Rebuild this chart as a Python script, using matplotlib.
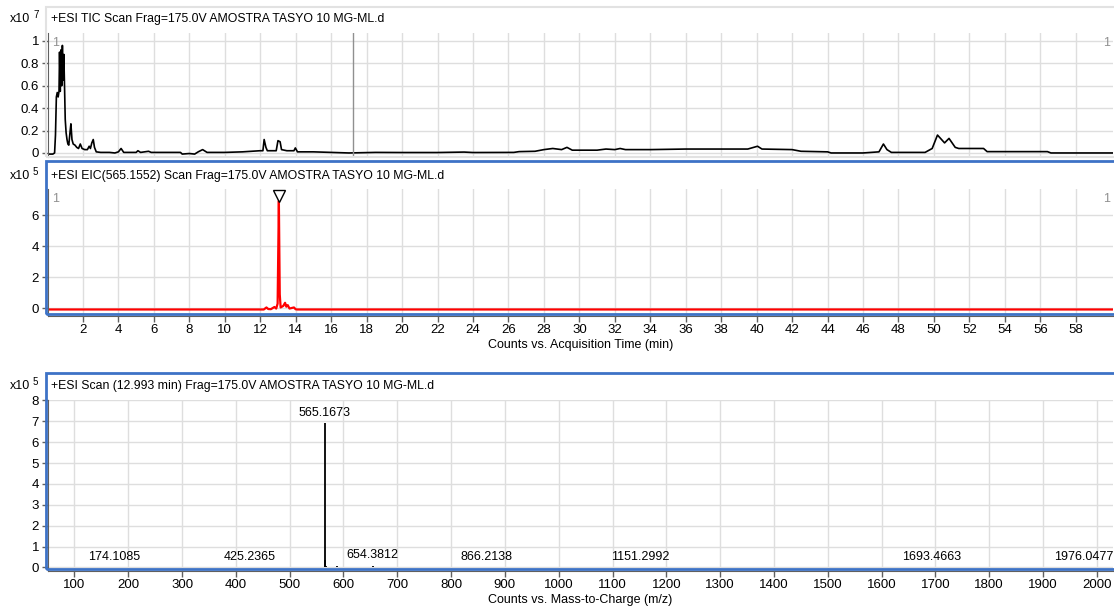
import matplotlib
matplotlib.use("Agg")
import matplotlib.pyplot as plt
from matplotlib.patches import Rectangle

plt.rcParams['font.family'] = ['Liberation Sans', 'DejaVu Sans']

# TIC trace, time in min, counts x10^7
tic_time = [0.00, 0.30, 0.40, 0.45, 0.50, 0.55, 0.60, 0.65, 0.68, 0.72, 0.76, 0.80, 0.84, 0.88,
            0.92, 0.96, 1.00, 1.05, 1.10, 1.15, 1.20, 1.28, 1.32, 1.38, 1.45, 1.55, 1.65, 1.75,
            1.85, 1.95, 2.10, 2.25, 2.35, 2.42, 2.50, 2.58, 2.65, 2.75, 3.0, 3.5, 3.8, 4.0, 4.15,
            4.3, 5.0, 5.1, 5.25, 5.7, 5.85, 7.5, 7.6, 8.0, 8.3, 8.5, 8.75, 9.0, 10.0, 11.0, 11.5,
            12.0, 12.15, 12.22, 12.32, 12.4, 12.9, 13.0, 13.12, 13.2, 13.5, 13.9, 13.98, 14.1,
            15.0, 16.0, 17.0, 18.5, 20.0, 22.0, 23.5, 24.0, 26.3, 26.6, 27.5, 28.0, 28.5, 29.0,
            29.3, 29.6, 31.0, 31.5, 32.0, 32.3, 32.6, 34.0, 36.0, 37.0, 39.5, 40.05, 40.3, 42.0,
            42.5, 44.0, 44.2, 46.0, 46.9, 47.15, 47.35, 47.6, 49.5, 49.9, 50.2, 50.6, 50.85,
            51.2, 51.4, 52.8, 53.0, 56.4, 56.6, 60.1]
tic_counts = [-0.01, -0.01, 0.00, 0.16, 0.50, 0.54, 0.50, 0.55, 0.90, 0.55, 0.92, 0.60, 0.96, 0.65,
              0.88, 0.60, 0.30, 0.18, 0.12, 0.08, 0.07, 0.20, 0.26, 0.12, 0.08, 0.07, 0.05, 0.04,
              0.08, 0.04, 0.03, 0.03, 0.06, 0.04, 0.09, 0.12, 0.05, 0.01, 0.005, 0.005, 0.0, 0.01, 0.04,
              0.005, 0.005, 0.02, 0.005, 0.015, 0.005, 0.005, -0.01, -0.005, -0.01, 0.01, 0.03, 0.005, 0.005, 0.01, 0.015,
              0.02, 0.02, 0.12, 0.05, 0.02, 0.02, 0.11, 0.10, 0.03, 0.02, 0.02, 0.045, 0.01,
              0.01, 0.005, 0.0, 0.005, 0.004, 0.004, 0.008, 0.004, 0.005, 0.012, 0.015, 0.03, 0.04, 0.03,
              0.05, 0.025, 0.025, 0.035, 0.03, 0.04, 0.03, 0.03, 0.035, 0.035, 0.035, 0.06, 0.035, 0.03,
              0.015, 0.01, 0.0, 0.0, 0.01, 0.08, 0.03, 0.005, 0.005, 0.04, 0.16, 0.09, 0.13,
              0.05, 0.04, 0.04, 0.012, 0.012, 0.0, 0.0]
cursor_time = 17.25

# EIC 565.1552, counts x10^5
eic_time = [0, 12.2, 12.35, 12.45, 12.6, 12.8, 12.9, 12.98, 13.05, 13.1, 13.15, 13.3, 13.4,
            13.47, 13.55, 13.65, 13.9, 14.0, 14.1, 60.1]
eic_counts = [-0.08, -0.08, 0.05, -0.05, -0.06, 0.08, -0.02, 0.3, 6.92, 0.9, 0.05, 0.15, 0.35,
              0.1, 0.2, -0.02, 0.05, -0.07, -0.08, -0.08]
eic_apex = 13.07

# mass spectrum at 12.993 min, counts x10^5
ms_mz = [120.0, 174.1085, 180.0, 425.2365, 548.5, 565.1673, 566.17, 567.2, 587.15, 654.3812,
         866.2138, 1151.2992, 1693.4663, 1976.0477]
ms_counts = [0.03, 0.03, 0.02, 0.01, 0.03, 6.93, 0.35, 0.06, 0.05, 0.09, 0.01, 0.02, 0.02, 0.01]
ms_labels = ["", "174.1085", "", "425.2365", "", "565.1673", "", "", "", "654.3812",
             "866.2138", "1151.2992", "1693.4663", "1976.0477"]

W, H = 1114, 608
BLUE = '#3d72c6'
GRID = '#dedede'
AXC = '#606060'
TICK_FS = 9.5


def px(x0, y_top, x1, y_bot):
    return [x0 / W, 1 - y_bot / H, (x1 - x0) / W, (y_bot - y_top) / H]


fig = plt.figure(figsize=(W / 100, H / 100), dpi=100)


def style(ax):
    ax.grid(True, color=GRID, linewidth=1)
    ax.set_axisbelow(True)
    for s in ['top', 'right']:
        ax.spines[s].set_visible(False)
    ax.spines['left'].set_color(AXC)
    ax.spines['bottom'].set_color(AXC)
    ax.tick_params(colors='black', labelsize=TICK_FS, length=4, width=1, pad=2)
    ax.tick_params(axis='both', color=AXC)


def header(y, title, exp):
    fig.text(10 / W, 1 - y / H, "x10", fontsize=9, va='center', ha='left')
    fig.text(33 / W, 1 - (y - 4) / H, exp, fontsize=7, va='center', ha='left')
    fig.text(51 / W, 1 - y / H, title, fontsize=8.8, va='center', ha='left')


# panel frames
fig.patches.append(Rectangle((46 / W, 1 - 157 / H), 1.0, 150 / H, transform=fig.transFigure,
                             fill=False, edgecolor='#e2e2e2', linewidth=1.5))
fig.patches.append(Rectangle((46 / W, 1 - 314 / H), 1.0, 153 / H, transform=fig.transFigure,
                             fill=False, edgecolor=BLUE, linewidth=2))
fig.patches.append(Rectangle((46 / W, 1 - 569 / H), 1.0, 196 / H, transform=fig.transFigure,
                             fill=False, edgecolor=BLUE, linewidth=2))

# TIC
ax1 = fig.add_axes(px(47.5, 33, 1113, 157))
style(ax1)
ax1.plot(tic_time, tic_counts, color='black', linewidth=1.2)
ax1.axvline(cursor_time, color='#909090', linewidth=1)
ax1.set_xlim(0, 60.1)
ax1.set_ylim(-0.036, 1.071)
ax1.set_xticks(range(2, 60, 2))
ax1.set_xticklabels([])
ax1.tick_params(axis='x', length=0)
ax1.spines['bottom'].set_visible(False)
ax1.set_yticks([0, 0.2, 0.4, 0.6, 0.8, 1])
ax1.set_yticklabels(["0", "0.2", "0.4", "0.6", "0.8", "1"])
ax1.text(0.004, 0.97, "1", transform=ax1.transAxes, color='#909090', fontsize=9, va='top')
ax1.text(0.997, 0.97, "1", transform=ax1.transAxes, color='#909090', fontsize=9, va='top', ha='right')
header(19, "+ESI TIC Scan Frag=175.0V AMOSTRA TASYO 10 MG-ML.d", "7")

# EIC
ax2 = fig.add_axes(px(47.5, 189, 1113, 316))
style(ax2)
ax2.plot(eic_time, eic_counts, color='#ff0000', linewidth=1.6)
ax2.plot([eic_apex], [7.2], marker='v', markersize=8, markerfacecolor='white',
         markeredgecolor='black', linestyle='none')
ax2.set_xlim(0, 60.1)
ax2.set_ylim(-0.5, 7.68)
ax2.set_xticks(range(2, 60, 2))
ax2.set_yticks([0, 2, 4, 6])
ax2.set_xlabel("Counts vs. Acquisition Time (min)", fontsize=9, labelpad=2)
ax2.text(0.004, 0.97, "1", transform=ax2.transAxes, color='#909090', fontsize=9, va='top')
ax2.text(0.997, 0.97, "1", transform=ax2.transAxes, color='#909090', fontsize=9, va='top', ha='right')
header(176, "+ESI EIC(565.1552) Scan Frag=175.0V AMOSTRA TASYO 10 MG-ML.d", "5")

# Mass spectrum
ax3 = fig.add_axes(px(47.5, 400, 1113, 571))
style(ax3)
ax3.vlines(ms_mz, 0, ms_counts, color='black', linewidth=1.3)
for mz, c, lab in zip(ms_mz, ms_counts, ms_labels):
    if lab:
        ax3.text(mz, c + 0.2, lab, ha='center', va='bottom', fontsize=9)
ax3.set_xlim(50, 2030)
ax3.set_ylim(-0.17, 8.02)
ax3.set_xticks(range(100, 2001, 100))
ax3.set_yticks(range(0, 9))
ax3.set_xlabel("Counts vs. Mass-to-Charge (m/z)", fontsize=9, labelpad=2)
header(386, "+ESI Scan (12.993 min) Frag=175.0V AMOSTRA TASYO 10 MG-ML.d", "5")

fig.savefig("out.png", dpi=100)
